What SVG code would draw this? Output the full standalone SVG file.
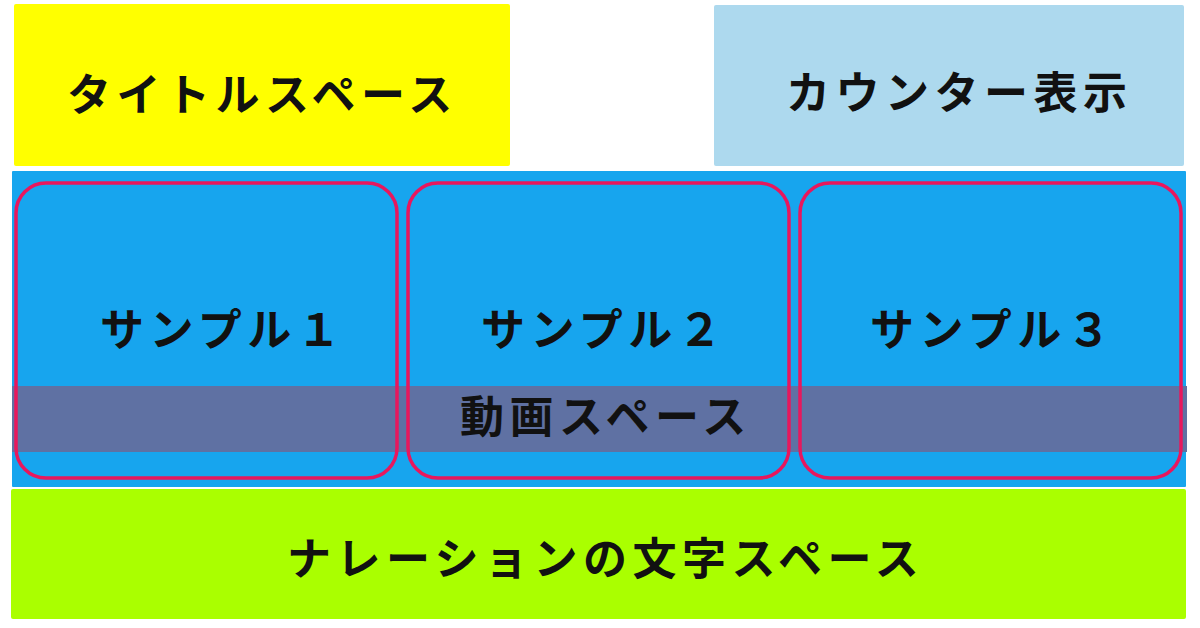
<svg xmlns="http://www.w3.org/2000/svg" width="1200" height="628" viewBox="0 0 1200 628">
<style>
.t{font-family:"Noto Sans CJK JP","Noto Sans",sans-serif;font-weight:bold;font-size:44px;letter-spacing:5.5px;fill:#111}
.sample{fill:none;stroke:#e8175d;stroke-width:3.5}
</style>
<rect width="1200" height="628" fill="#ffffff"/>
<g id="title">
<rect x="14" y="4" width="496" height="162" rx="2" fill="#ffff00"/>
<text class="t" x="67" y="111">タイトルスペース</text>
</g>
<g id="counter">
<rect x="714" y="5" width="470" height="161" rx="2" fill="#add9ee"/>
<text class="t" x="786" y="109">カウンター表示</text>
</g>
<g id="video">
<rect x="12" y="171" width="1174" height="316" rx="1" fill="#17a5ee"/>
<rect x="12" y="386" width="1175" height="66" fill="#5f71a3"/>
<text class="t" x="460" y="433">動画スペース</text>
</g>
<g id="sample1">
<rect class="sample" x="16" y="183" width="381" height="295" rx="30"/>
<text class="t" x="100" y="346">サンプル１</text>
</g>
<g id="sample2">
<rect class="sample" x="408" y="183" width="381" height="295" rx="30"/>
<text class="t" x="481" y="346">サンプル２</text>
</g>
<g id="sample3">
<rect class="sample" x="800" y="183" width="381" height="295" rx="30"/>
<text class="t" x="870" y="346">サンプル３</text>
</g>
<g id="narration">
<rect x="11" y="489" width="1175" height="130" rx="2" fill="#aaff00"/>
<text class="t" x="287" y="575">ナレーションの文字スペース</text>
</g>
<g id="connectors"></g>
</svg>
